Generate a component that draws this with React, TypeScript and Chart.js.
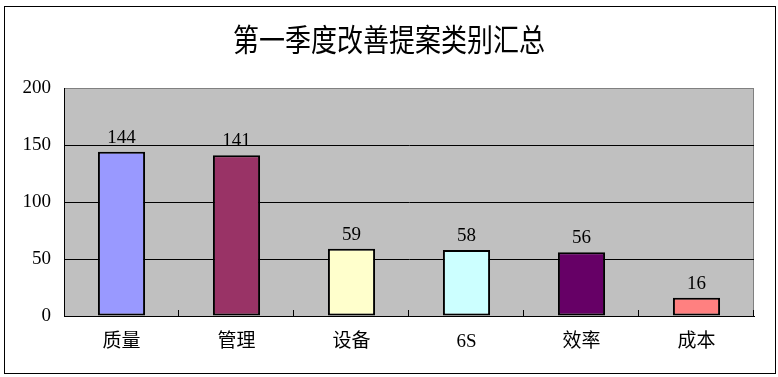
import React, { useEffect, useRef } from "react";
import { Chart, registerables } from "chart.js";

Chart.register(...registerables);

const categories = ["质量", "管理", "设备", "6S", "效率", "成本"];
const values = [144, 141, 59, 58, 56, 16];
const barColors = ["#9999FF", "#993366", "#FFFFCC", "#CCFFFF", "#660066", "#FF8080"];
const titleText = "第一季度改善提案类别汇总";
const yMin = 0;
const yMax = 200;
const yStep = 50;

const FONT = "'Liberation Serif', 'Noto Sans CJK SC', serif";

const decorPlugin = {
  id: "decor",
  beforeDraw(chart: any) {
    const { ctx, chartArea } = chart;
    const { left, top, right, bottom } = chartArea;
    ctx.save();
    ctx.fillStyle = "#ffffff";
    ctx.fillRect(0, 0, chart.width, chart.height);
    ctx.strokeStyle = "#000000";
    ctx.lineWidth = 1;
    ctx.strokeRect(4.5, 6.5, 771, 367);
    ctx.fillStyle = "#C0C0C0";
    ctx.fillRect(left, top, right - left, bottom - top);
    ctx.strokeStyle = "#808080";
    ctx.beginPath();
    ctx.moveTo(left, top + 0.5);
    ctx.lineTo(right - 0.5, top + 0.5);
    ctx.lineTo(right - 0.5, bottom);
    ctx.stroke();
    // title
    ctx.fillStyle = "#000000";
    ctx.font = `26px 'Noto Sans CJK SC', sans-serif`;
    ctx.textAlign = "center";
    ctx.textBaseline = "middle";
    ctx.translate(chart.width / 2, 39);
    ctx.scale(1, 1.17);
    ctx.fillText(titleText, 0, 0);
    ctx.restore();
  },
  afterDraw(chart: any) {
    const { ctx, chartArea } = chart;
    const { left, right, bottom } = chartArea;
    const n = categories.length;
    const w = (right - left) / n;
    ctx.save();
    ctx.strokeStyle = "#000000";
    ctx.lineWidth = 1;
    ctx.beginPath();
    for (let i = 1; i <= n; i++) {
      const x = Math.round(left + i * w) - 0.5;
      ctx.moveTo(x, bottom);
      ctx.lineTo(x, bottom - 6);
    }
    ctx.stroke();
    // data labels
    const meta = chart.getDatasetMeta(0);
    ctx.fillStyle = "#000000";
    ctx.font = `19px ${FONT}`;
    ctx.textAlign = "center";
    ctx.textBaseline = "alphabetic";
    meta.data.forEach((el: any, i: number) => {
      ctx.fillText(String(values[i]), el.x, el.y - 9);
    });
    ctx.restore();
  },
};

export default function App() {
  const ref = useRef<HTMLCanvasElement>(null);
  useEffect(() => {
    document.body.style.margin = "0";
    const chart = new Chart(ref.current!, {
      type: "bar",
      data: {
        labels: categories,
        datasets: [
          {
            data: values,
            backgroundColor: barColors,
            borderColor: "#000000",
            borderWidth: 2,
            borderSkipped: false,
            categoryPercentage: 1,
            barPercentage: 0.41,
          },
        ],
      },
      options: {
        responsive: false,
        animation: false,
        layout: { padding: { left: 0, right: 24, top: 88, bottom: 0 } },
        plugins: {
          legend: { display: false },
          tooltip: { enabled: false },
          title: { display: false },
        },
        scales: {
          x: {
            grid: { display: false, drawTicks: false },
            border: { display: true, color: "#000000", width: 1 },
            ticks: {
              color: "#000000",
              font: { family: FONT, size: 19 },
              padding: 15,
            },
            afterFit(scale: any) {
              scale.height = 61;
            },
          },
          y: {
            min: yMin,
            max: yMax,
            ticks: {
              stepSize: yStep,
              color: "#000000",
              font: { family: FONT, size: 19 },
              padding: 13,
            },
            grid: {
              drawTicks: false,
              color: (c: any) => (c.tick && c.tick.value === yMax ? "#808080" : "#000000"),
              lineWidth: 1,
            },
            border: { display: true, color: "#000000", width: 1 },
            afterFit(scale: any) {
              scale.width = 64;
            },
          },
        },
      },
      plugins: [decorPlugin],
    });
    return () => chart.destroy();
  }, []);
  return (
    <div style={{ width: 778, height: 377 }}>
      <canvas ref={ref} width={778} height={377} />
    </div>
  );
}
